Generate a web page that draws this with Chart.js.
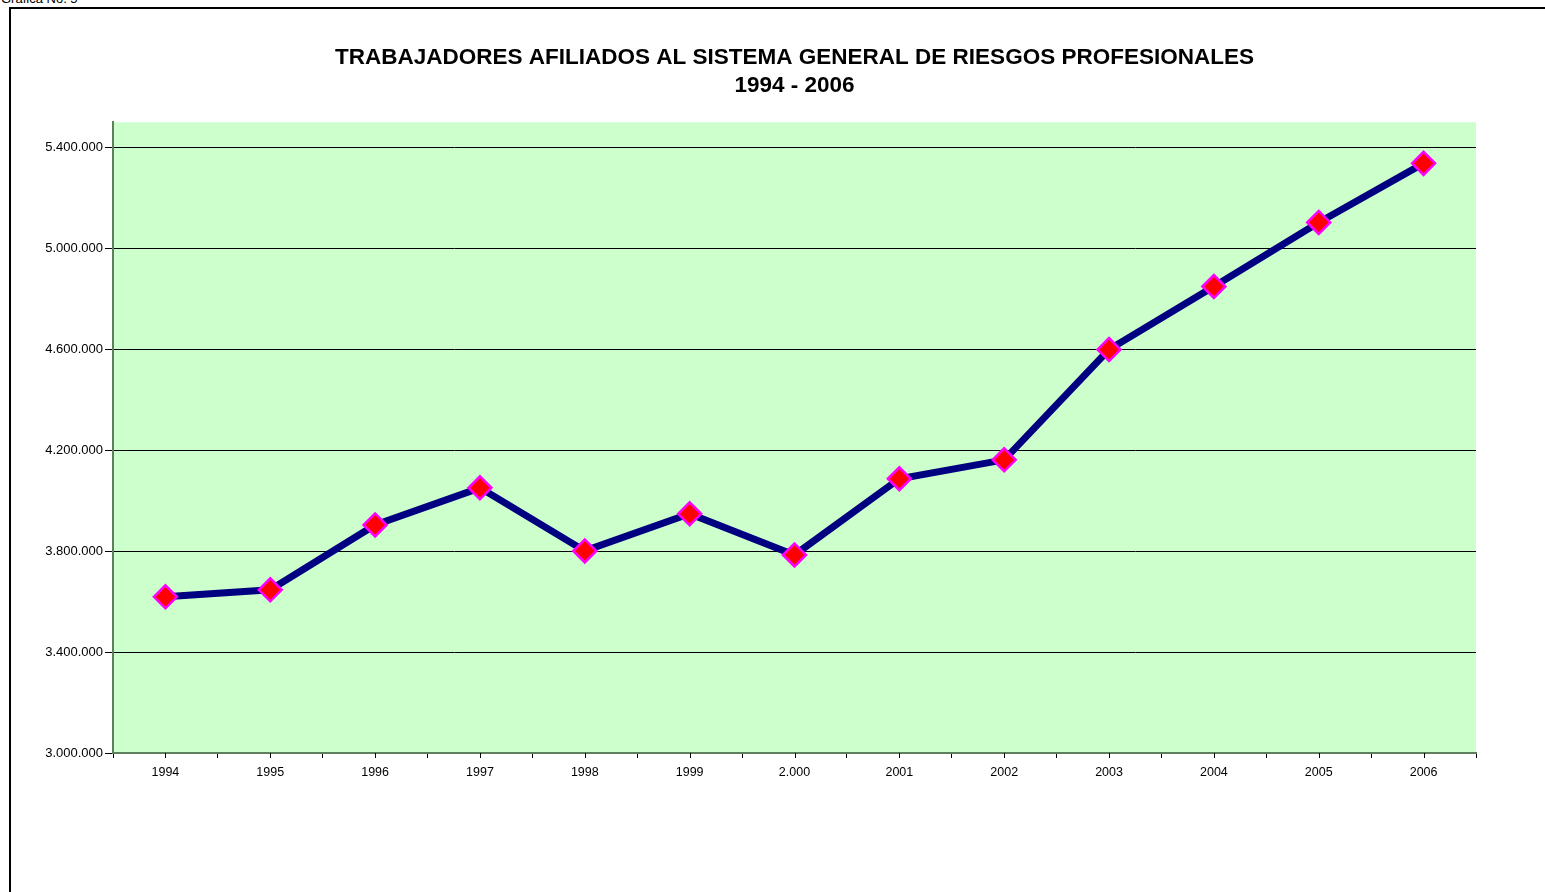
<!DOCTYPE html>
<html>
<head>
<meta charset="utf-8">
<script src="https://cdn.jsdelivr.net/npm/chart.js@4.4.1/dist/chart.umd.min.js"></script>
<style>
  html, body { margin: 0; padding: 0; background: #fff; overflow: hidden; }
  body { width: 1545px; height: 892px; position: relative; font-family: "Liberation Sans", Arial, sans-serif; }
  #frame { position: absolute; left: 9px; top: 7px; width: 1560px; height: 920px; border: 2px solid #000; box-sizing: border-box; }
  #caption { position: absolute; left: 1px; top: -9px; font-size: 13px; color: #000; }
  #wrap { position: absolute; left: 0; top: 0; width: 1545px; height: 892px; }
</style>
</head>
<body>
<div id="frame"></div>
<div id="caption">Gráfica No. 5</div>
<div id="wrap"><canvas id="c" width="1545" height="892"></canvas></div>
<script>
const titleLines = ["TRABAJADORES AFILIADOS AL SISTEMA GENERAL DE RIESGOS PROFESIONALES", "1994 - 2006"];
const years = ["1994","1995","1996","1997","1998","1999","2.000","2001","2002","2003","2004","2005","2006"];
const afiliados = [3619000, 3647000, 3904000, 4051000, 3801000, 3948000, 3785000, 4087000, 4162000, 4599000, 4849000, 5103000, 5337000];
const yTicks = [3000000, 3400000, 3800000, 4200000, 4600000, 5000000, 5400000];
const yMin = 3000000;
const yMax = 5500000;

const fmt = v => String(v).replace(/\B(?=(\d{3})+(?!\d))/g, ".");

const bgPlugin = {
  id: 'plotBg',
  beforeDraw(chart) {
    const a = chart.chartArea, ctx = chart.ctx;
    ctx.save();
    ctx.fillStyle = '#CCFFCC';
    ctx.fillRect(a.left, a.top, a.right - a.left, a.bottom - a.top);
    ctx.restore();
  }
};
const centerTicks = {
  id: 'centerTicks',
  afterDraw(chart) {
    const x = chart.scales.x, ctx = chart.ctx, b = chart.chartArea.bottom;
    ctx.save();
    ctx.strokeStyle = '#000';
    ctx.lineWidth = 1;
    years.forEach((_, i) => {
      const px = Math.round(x.getPixelForValue(i)) + 0.5;
      ctx.beginPath();
      ctx.moveTo(px, b);
      ctx.lineTo(px, b + 5);
      ctx.stroke();
    });
    ctx.restore();
  }
};

new Chart(document.getElementById('c'), {
  type: 'line',
  data: {
    labels: years,
    datasets: [{
      data: afiliados,
      borderColor: '#000080',
      borderWidth: 7,
      tension: 0,
      pointStyle: 'rectRot',
      pointRadius: 11.5,
      pointHoverRadius: 11.5,
      pointBackgroundColor: '#FF0000',
      pointBorderColor: '#FF00FF',
      pointBorderWidth: 2.5
    }]
  },
  options: {
    responsive: false,
    animation: false,
    events: [],
    layout: { padding: { left: 0, right: 69, top: 0, bottom: 0 } },
    plugins: {
      legend: { display: false },
      tooltip: { enabled: false },
      title: {
        display: true,
        fullSize: false,
        text: titleLines,
        color: '#000',
        font: { family: '"Liberation Sans", Arial, sans-serif', size: 22.5, weight: 'bold', lineHeight: 1.25 },
        padding: { top: 44, bottom: 22 }
      }
    },
    scales: {
      x: {
        offset: true,
        grid: { display: true, drawOnChartArea: false, offset: true, tickLength: 5, color: '#000', lineWidth: 1 },
        border: { display: true, color: '#5E7E5E', width: 2 },
        ticks: { color: '#000', padding: 7, font: { family: '"Liberation Sans", Arial, sans-serif', size: 12.5 }, maxRotation: 0, autoSkip: false },
        afterFit(s) { s.height = 139; }
      },
      y: {
        min: yMin,
        max: yMax,
        afterBuildTicks(s) { s.ticks = yTicks.map(v => ({ value: v })); },
        grid: {
          color: ctx => (ctx.tick && ctx.tick.value === yMin) ? 'rgba(0,0,0,0)' : '#000',
          lineWidth: 1,
          tickLength: 8,
          tickColor: '#000'
        },
        border: { display: true, color: '#5E7E5E', width: 2 },
        ticks: { color: '#000', padding: 2, font: { family: '"Liberation Sans", Arial, sans-serif', size: 13 }, callback: v => fmt(v) },
        afterFit(s) { s.width = 113; }
      }
    }
  },
  plugins: [bgPlugin, centerTicks]
});
</script>
</body>
</html>
